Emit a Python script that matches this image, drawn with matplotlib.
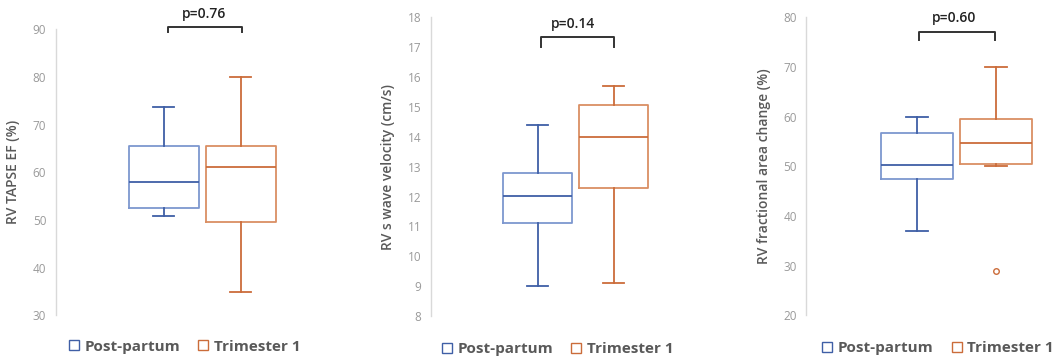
import matplotlib
matplotlib.use("Agg")
import matplotlib.pyplot as plt
from matplotlib.lines import Line2D

plt.rcParams['font.family'] = ['Open Sans', 'DejaVu Sans']

# box stats: [whislo, q1, med, q3, whishi]
groups = ['Post-partum', 'Trimester 1']
tapse_pp = [50.8, 52.5, 57.9, 65.5, 73.6]
tapse_t1 = [34.9, 49.6, 61.0, 65.5, 80.0]
swave_pp = [9.0, 11.1, 12.03, 12.8, 14.4]
swave_t1 = [9.1, 12.3, 14.0, 15.05, 15.7]
fac_pp = [36.9, 47.4, 50.2, 56.8, 60.0]
fac_t1 = [50.0, 50.5, 54.6, 59.5, 70.0]
fac_t1_fliers = [28.9]

ylabels = ['RV TAPSE EF (%)', 'RV s wave velocity (cm/s)', 'RV fractional area change (%)']
pvals = ['p=0.76', 'p=0.14', 'p=0.60']
ylims = [(30, 90), (8, 18), (20, 80)]
ysteps = [10, 1, 10]

blue_box, blue_line = '#7D97CF', '#3F5FA6'
orng_box, orng_line = '#DA8F63', '#CB6C3A'

def stats(v, fl=None):
    return dict(whislo=v[0], q1=v[1], med=v[2], q3=v[3], whishi=v[4], fliers=fl or [])

panels = [
    (stats(tapse_pp), stats(tapse_t1)),
    (stats(swave_pp), stats(swave_t1)),
    (stats(fac_pp), stats(fac_t1, fac_t1_fliers)),
]

# axes placement in figure fraction
pos = [
    [0.053, 0.124, 0.2185, 0.795],
    [0.408, 0.122, 0.2157, 0.830],
    [0.763, 0.124, 0.2242, 0.828],
]
# bracket: (x0, x1, ytop, ybottom), label (x, y)
brackets = [(1.05, 2.01, 90.5, 89.4), (1.04, 2.0, 17.33, 17.02), (1.03, 1.99, 77.0, 75.4)]
plabels = [(1.52, 93.2), (1.47, 17.78), (1.47, 79.8)]

fig = plt.figure(figsize=(10.57, 3.6), dpi=100)

for i in range(3):
    ax = fig.add_axes(pos[i])
    s_pp, s_t1 = panels[i]
    for j, (s, bc, lc) in enumerate([(s_pp, blue_box, blue_line), (s_t1, orng_box, orng_line)]):
        ax.bxp([s], positions=[j + 1], widths=0.91, capwidths=0.27, showfliers=True,
               boxprops=dict(color=bc, lw=1.3),
               medianprops=dict(color=lc, lw=1.3),
               whiskerprops=dict(color=lc, lw=1.3),
               capprops=dict(color=lc, lw=1.3),
               flierprops=dict(marker='o', markersize=4, markerfacecolor='white',
                               markeredgecolor=lc, markeredgewidth=1.0))
    lo, hi = ylims[i]
    ax.set_ylim(lo, hi)
    ax.set_xlim(-0.4, 2.6)
    ax.set_yticks(range(lo, hi + 1, ysteps[i]))
    ax.set_xticks([])
    for sp in ['top', 'right', 'bottom']:
        ax.spines[sp].set_visible(False)
    ax.spines['left'].set_color('#D9D9D9')
    ax.spines['left'].set_linewidth(1.0)
    ax.tick_params(axis='y', length=0, pad=7, labelsize=8.5, labelcolor='#9A9A9A')
    ax.set_ylabel(ylabels[i], fontsize=10, color='#595959', fontweight='semibold', labelpad=9)

    x0, x1, yt, yb = brackets[i]
    ax.plot([x0, x0, x1, x1], [yb, yt, yt, yb], color='#333333', lw=1.4, clip_on=False)
    px, py = plabels[i]
    ax.text(px, py, pvals[i], ha='center', va='center', fontsize=10, fontweight='semibold',
            color='#222222', clip_on=False)

    handles = [Line2D([], [], ls='none', marker='s', markersize=7.5, markerfacecolor='white',
                      markeredgecolor=blue_line, markeredgewidth=1.0),
               Line2D([], [], ls='none', marker='s', markersize=7.5, markerfacecolor='white',
                      markeredgecolor=orng_line, markeredgewidth=1.0)]
    ax.legend(handles, groups, loc='center', bbox_to_anchor=(0.55, -0.11), ncol=2,
              frameon=False, handletextpad=0.2, columnspacing=1.0, handlelength=1.0,
              prop=dict(size=11, weight='bold'), labelcolor='#595959')

fig.savefig('out.png', dpi=100)
